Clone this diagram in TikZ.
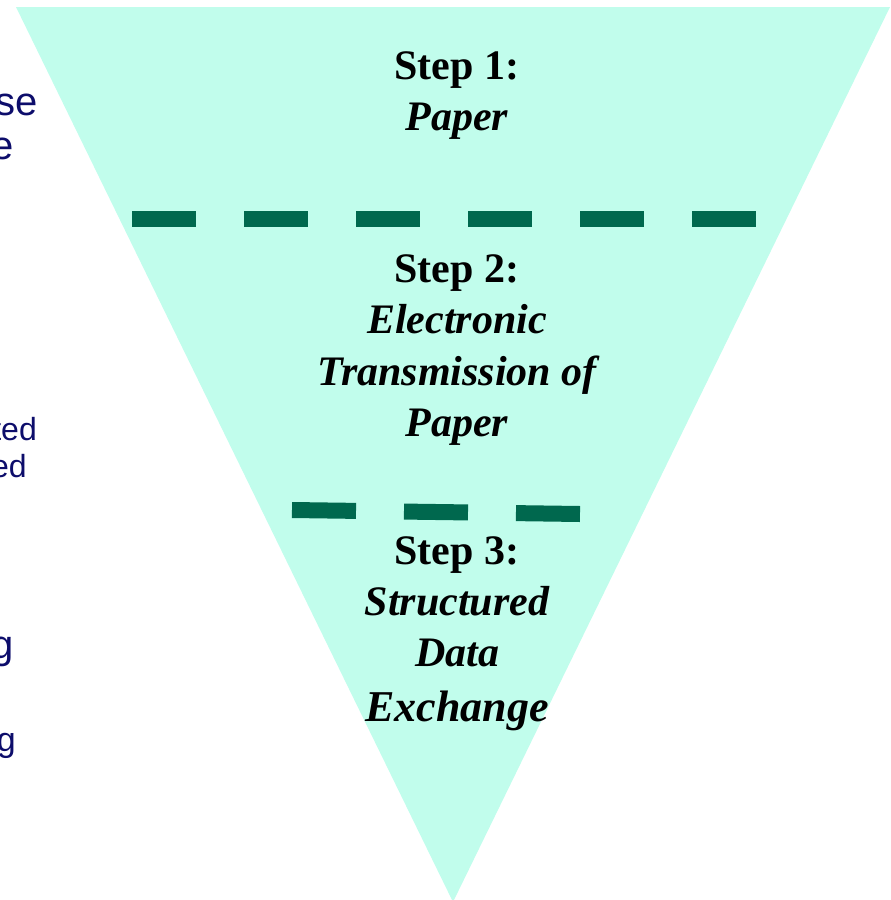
\documentclass[tikz,border=0pt]{standalone}
\usepackage{fontspec}
\setmainfont{Liberation Serif}
\newfontfamily\slidesans{Liberation Sans}
\usepackage{xcolor}
\definecolor{Aqua}{HTML}{C1FDEC}
\definecolor{DashGreen}{HTML}{00684E}
\definecolor{Navy}{HTML}{0D0D6B}

\begin{document}
\begin{tikzpicture}[x=1pt, y=-1pt,
  steplbl/.style={align=center, inner sep=0pt, anchor=north,
                  font=\fontsize{42}{51}\selectfont\bfseries},
  frag/.style={anchor=base east, inner sep=0pt, text=Navy, font=\slidesans},
  divider/.style={line width=16pt, color=DashGreen, dash pattern=on 64pt off 48pt}
]
  \useasboundingbox (0,0) rectangle (891,900);

  % funnel
  \coordinate (tl) at (16,7);
  \coordinate (tr) at (890,7);
  \coordinate (tip) at (453,902);
  \fill[Aqua] (tl) -- (tr) -- (tip) -- cycle;

  % dividers
  \coordinate (d1a) at (132,219);
  \coordinate (d1b) at (756,219);
  \coordinate (d2a) at (292,510);
  \coordinate (d2b) at (580,514);
  \draw[divider] (d1a) -- (d1b);
  \draw[divider] (d2a) -- (d2b);

  % steps
  \node[steplbl] (s1) at (457,51)  {Step 1:\\ \itshape Paper};
  \node[steplbl] (s2) at (457,254) {Step 2:\\ \itshape Electronic\\[1pt] \itshape Transmission of\\ \itshape Paper};
  \node[steplbl] (s3) at (457,536) {Step 3:\\ \itshape Structured\\ \itshape Data\\[4pt] \fontsize{44}{51}\selectfont\itshape Exchange};

  % cut-off text on the left
  \node[frag, font=\slidesans\fontsize{40}{40}\selectfont] (f1) at (38,115) {se};
  \node[frag, font=\slidesans\fontsize{40}{40}\selectfont] (f2) at (14,159) {e};
  \node[frag, font=\slidesans\fontsize{32}{32}\selectfont] (f3) at (37,440) {ted};
  \node[frag, font=\slidesans\fontsize{32}{32}\selectfont] (f4) at (27,477) {ed};
  \node[frag, font=\slidesans\fontsize{40}{40}\selectfont] (f5) at (14,658) {g};
  \node[frag, font=\slidesans\fontsize{34}{34}\selectfont] (f6) at (16,751) {g};
\end{tikzpicture}
\end{document}
